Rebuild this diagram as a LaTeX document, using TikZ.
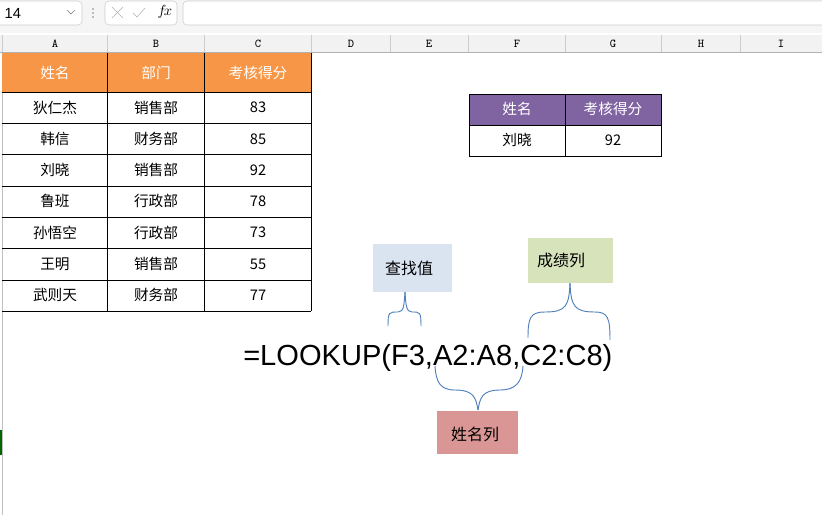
\documentclass[tikz,border=0pt]{standalone}
\usepackage{fontspec}
\setmainfont{Liberation Sans}
\newfontfamily\cjk{Noto Sans CJK SC}
\begin{document}
\begin{tikzpicture}[x=0.75pt,y=-0.75pt,
  cell/.style={font=\cjk\fontsize{11}{13}\selectfont},
  hcell/.style={font=\cjk\fontsize{11}{13}\selectfont,text=white},
  colh/.style={font=\fontsize{9}{11}\selectfont\ttfamily},
  brace/.style={draw={rgb,255:red,79;green,129;blue,189},line width=0.7pt},
  callout/.style={font=\cjk\fontsize{12}{14}\selectfont,inner sep=0pt}]
\useasboundingbox (0,0) rectangle (822,515);
\fill[white] (0,0) rectangle (822,515);
% formula bar
\fill[gray!8] (0,0) rectangle (822,33);
\draw[gray!40,rounded corners=3pt,fill=white] (-5,1) rectangle (82,25);
\node[anchor=west,font=\fontsize{11}{13}\selectfont] (namebox) at (0,13) {14};
\draw[gray] (67,10) -- (71,14) -- (75,10);
\foreach \yy in {9,13,17}{\fill[gray] (93,\yy) circle (0.9);}
\draw[gray!40,rounded corners=3pt,fill=white] (105,1) rectangle (177,25);
\draw[gray!60] (112,7) -- (123,18) (112,18) -- (123,7);
\draw[gray!60] (133,13) -- (137,17) -- (145,8);
\node[font=\itshape\fontsize{11}{13}\selectfont] (fx) at (165,12) {$f\!x$};
\draw[gray!40,rounded corners=3pt,fill=white] (183,1) rectangle (830,25);
% column header
\fill[gray!10] (0,35) rectangle (822,52);
\draw[gray!60] (0,52) -- (822,52);
\foreach \x in {2,107,204,311,390,468,565,661,740}{\draw[gray!40] (\x,35) -- (\x,52);}
\foreach \l/\x in {A/55,B/156,C/258,D/351,E/429,F/517,G/613,H/701,I/781}{\node[colh] (col\l) at (\x,44) {\l};}
% left row header line
\draw[gray!50] (2,52) -- (2,515);
\fill[green!40!black] (0,430) rectangle (2,455);
% main table
\definecolor{org}{HTML}{F79646}
\fill[org] (2,53) rectangle (311,92);
\foreach \y in {92,123,154,186,217,248,280,311}{\draw[black,line width=0.6pt] (2,\y) -- (311,\y);}
\foreach \x in {107,204,311}{\draw[black,line width=0.6pt] (\x,53) -- (\x,311);}
\node[hcell] (h1) at (55,73) {姓名};
\node[hcell] (h2) at (156,73) {部门};
\node[hcell] (h3) at (258,73) {考核得分};
\foreach \n/\d/\s [count=\i] in {狄仁杰/销售部/83,韩信/财务部/85,刘晓/销售部/92,鲁班/行政部/78,孙悟空/行政部/73,王明/销售部/55,武则天/财务部/77}{
  \pgfmathsetmacro\yy{92+31.3*(\i-1)+15.5}
  \node[cell] (n\i) at (55,\yy) {\n};
  \node[cell] (d\i) at (156,\yy) {\d};
  \node[cell] (s\i) at (258,\yy) {\s};
}
% right table
\definecolor{purp}{HTML}{8064A2}
\fill[purp] (469,94) rectangle (661,125);
\draw[black,line width=0.6pt] (469,94) rectangle (661,156) (469,125) -- (661,125) (565,94) -- (565,156);
\node[hcell] (rh1) at (517,109) {姓名};
\node[hcell] (rh2) at (613,109) {考核得分};
\node[cell] (rv1) at (517,140) {刘晓};
\node[cell] (rv2) at (613,140) {92};
% callouts
\definecolor{cb}{HTML}{DAE3F0}\definecolor{cg}{HTML}{D7E3BB}\definecolor{cr}{HTML}{DA9694}
\fill[cb] (373,244) rectangle (452,292);
\node[callout] (c1) at (409,268) {查找值};
\fill[cg] (528,238) rectangle (613,283);
\node[callout] (c2) at (561,260) {成绩列};
\fill[cr] (437,411) rectangle (518,454);
\node[callout] (c3) at (475,434) {姓名列};
% formula
\node[anchor=base west,inner sep=0pt,font=\fontsize{21.8}{26}\selectfont] (f) at (243,365) {=LOOKUP(F3,A2:A8,C2:C8)};
% braces
\draw[brace] (388,326) .. controls (388,312) and (389,312) .. (398,312) .. controls (404,312) and (404,305) .. (405,292);
\draw[brace] (405,292) .. controls (406,305) and (406,312) .. (412,312) .. controls (420,312) and (421,312) .. (421,326);
\draw[brace] (528,338) .. controls (528,318) and (530,312) .. (545,312) .. controls (566,312) and (569,306) .. (570,283);
\draw[brace] (570,283) .. controls (571,306) and (574,312) .. (595,312) .. controls (608,312) and (610,318) .. (610,340);
\draw[brace] (435,366) .. controls (436,382) and (440,390) .. (455,390) .. controls (474,390) and (476,398) .. (478,410);
\draw[brace] (478,410) .. controls (480,398) and (482,390) .. (500,390) .. controls (516,390) and (522,382) .. (523,366);
\end{tikzpicture}
\end{document}
